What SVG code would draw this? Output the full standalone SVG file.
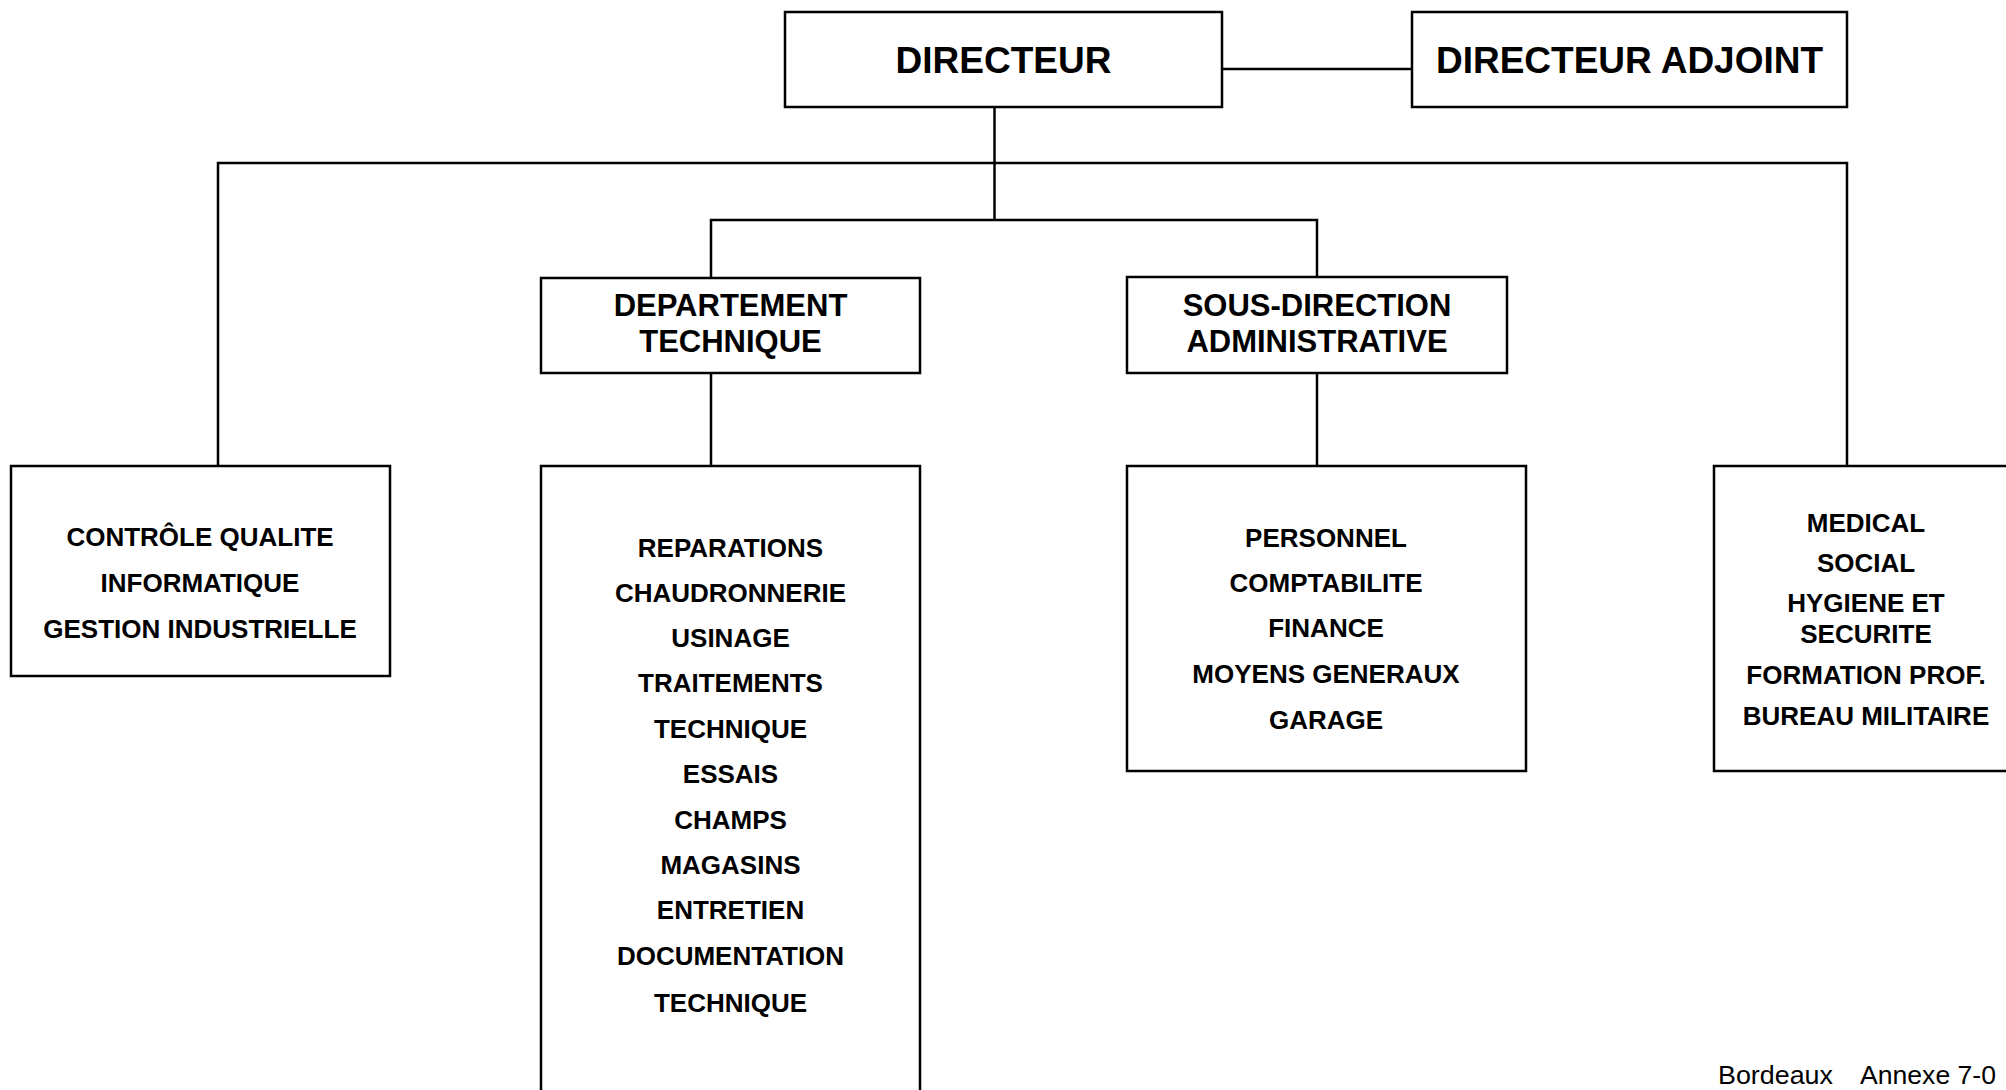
<svg xmlns="http://www.w3.org/2000/svg" width="2006" height="1090" viewBox="0 0 2006 1090">
<style>
.box{fill:#fff;stroke:#000;stroke-width:2.5}
.ln{fill:none;stroke:#000;stroke-width:2.5}
text{font-family:"Liberation Sans",Arial,sans-serif;font-weight:bold;fill:#000;text-anchor:middle}
.t1{font-size:37px}
.t2{font-size:31px}
.t3{font-size:26px}
.ft{font-weight:normal;font-size:25px;text-anchor:start}
</style>
<rect width="2006" height="1090" fill="#fff"/>
<g id="connectors">
<path class="ln" d="M1222 69H1412"/>
<path class="ln" d="M994.5 107V220"/>
<path class="ln" d="M218 466V163H1847V466"/>
<path class="ln" d="M711 278V220H1317V277"/>
<path class="ln" d="M711 373V466"/>
<path class="ln" d="M1317 373V466"/>
</g>
<g id="directeur">
<rect class="box" x="785" y="12" width="437" height="95"/>
<text class="t1" x="1003.5" y="73">DIRECTEUR</text>
</g>
<g id="directeur-adjoint">
<rect class="box" x="1412" y="12" width="435" height="95"/>
<text class="t1" x="1629.5" y="73">DIRECTEUR ADJOINT</text>
</g>
<g id="departement-technique">
<rect class="box" x="541" y="278" width="379" height="95"/>
<text class="t2" x="730.5" y="316">DEPARTEMENT</text>
<text class="t2" x="730.5" y="352">TECHNIQUE</text>
</g>
<g id="sous-direction">
<rect class="box" x="1127" y="277" width="380" height="96"/>
<text class="t2" x="1317" y="316">SOUS-DIRECTION</text>
<text class="t2" x="1317" y="352">ADMINISTRATIVE</text>
</g>
<g id="qualite">
<rect class="box" x="11" y="466" width="379" height="210"/>
<text class="t3" x="200" y="546">CONTRÔLE QUALITE</text>
<text class="t3" x="200" y="592">INFORMATIQUE</text>
<text class="t3" x="200" y="638">GESTION INDUSTRIELLE</text>
</g>
<g id="services-techniques">
<rect class="box" x="541" y="466" width="379" height="640"/>
<text class="t3" x="730.5" y="557">REPARATIONS</text>
<text class="t3" x="730.5" y="602">CHAUDRONNERIE</text>
<text class="t3" x="730.5" y="647">USINAGE</text>
<text class="t3" x="730.5" y="692">TRAITEMENTS</text>
<text class="t3" x="730.5" y="738">TECHNIQUE</text>
<text class="t3" x="730.5" y="783">ESSAIS</text>
<text class="t3" x="730.5" y="829">CHAMPS</text>
<text class="t3" x="730.5" y="874">MAGASINS</text>
<text class="t3" x="730.5" y="919">ENTRETIEN</text>
<text class="t3" x="730.5" y="965">DOCUMENTATION</text>
<text class="t3" x="730.5" y="1012">TECHNIQUE</text>
</g>
<g id="services-administratifs">
<rect class="box" x="1127" y="466" width="399" height="305"/>
<text class="t3" x="1326" y="547">PERSONNEL</text>
<text class="t3" x="1326" y="592">COMPTABILITE</text>
<text class="t3" x="1326" y="637">FINANCE</text>
<text class="t3" x="1326" y="683">MOYENS GENERAUX</text>
<text class="t3" x="1326" y="729">GARAGE</text>
</g>
<g id="services-generaux">
<rect class="box" x="1714" y="466" width="320" height="305"/>
<text class="t3" x="1866" y="532">MEDICAL</text>
<text class="t3" x="1866" y="572">SOCIAL</text>
<text class="t3" x="1866" y="612">HYGIENE ET</text>
<text class="t3" x="1866" y="643">SECURITE</text>
<text class="t3" x="1866" y="684">FORMATION PROF.</text>
<text class="t3" x="1866" y="725">BUREAU MILITAIRE</text>
</g>
<g id="footer">
<text class="ft" x="1718" y="1084" textLength="115" lengthAdjust="spacingAndGlyphs">Bordeaux</text>
<text class="ft" x="1860" y="1084" textLength="136" lengthAdjust="spacingAndGlyphs">Annexe 7-0</text>
</g>
</svg>
